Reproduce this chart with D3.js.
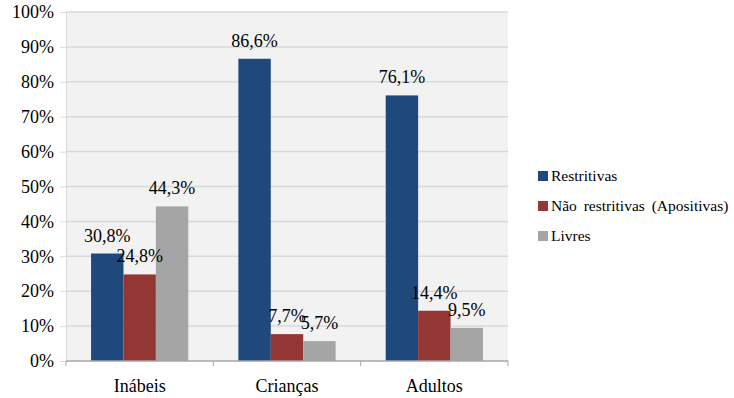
<!DOCTYPE html>
<html>
<head>
<meta charset="UTF-8">
<script src="https://cdn.jsdelivr.net/npm/d3@7"></script>
</head>
<body style="margin:0">
<script>

    var svgW = 734;
    var svgH = 398;
    var serifFont = "'Liberation Serif', 'Times New Roman', Tinos, serif";

    // categories, series and values
    var categories = ["Inábeis", "Crianças", "Adultos"];
    var seriesNames = ["Restritivas", "Não restritivas (Apositivas)", "Livres"];
    var seriesColors = ["#1f497d", "#943634", "#a5a5a5"];
    var restritivas = [30.8, 86.6, 76.1];
    var naoRestritivas = [24.8, 7.7, 14.4];
    var livres = [44.3, 5.7, 9.5];
    var yTicks = [0, 10, 20, 30, 40, 50, 60, 70, 80, 90, 100];

    var series = [restritivas, naoRestritivas, livres];

    var plotL = 66, plotR = 508, plotT = 12, plotB = 361;

    var svg = d3.select("body").append("svg")
            .attr("width", svgW)
            .attr("height", svgH)
            .attr("font-family", serifFont);

    var x0 = d3.scaleBand()
            .domain(categories)
            .range([plotL, plotR])
            .paddingInner(0.34)
            .paddingOuter(0.17);

    var x1 = d3.scaleBand()
            .domain(d3.range(series.length))
            .range([0, x0.bandwidth()]);

    var y = d3.scaleLinear()
            .domain([0, 100])
            .range([plotB, plotT]);

    // plot background
    svg.append("rect")
            .attr("x", plotL)
            .attr("y", plotT)
            .attr("width", plotR - plotL)
            .attr("height", plotB - plotT)
            .attr("fill", "#f2f2f2");

    // y axis with gridlines
    var yAxis = svg.append("g")
            .attr("transform", "translate(" + plotL + ",0)")
            .call(d3.axisLeft(y)
                    .tickValues(yTicks)
                    .tickSize(6)
                    .tickFormat(function (d) { return d + "%"; }));
    yAxis.attr("font-family", serifFont).attr("font-size", 18);
    yAxis.select(".domain").attr("stroke", "#d9d9d9");
    yAxis.selectAll(".tick line").attr("stroke", "#d9d9d9");
    yAxis.selectAll(".tick text")
            .attr("x", -12)
            .attr("fill", "#000");

    svg.append("g").selectAll("line")
            .data(yTicks.filter(function (d) { return d > 0; }))
            .enter()
            .append("line")
            .attr("x1", plotL)
            .attr("x2", plotR)
            .attr("y1", function (d) { return y(d); })
            .attr("y2", function (d) { return y(d); })
            .attr("stroke", "#d9d9d9")
            .attr("stroke-width", 1.5);

    // bars
    var groups = svg.append("g").selectAll("g")
            .data(categories)
            .enter()
            .append("g")
            .attr("transform", function (d) { return "translate(" + x0(d) + ",0)"; });

    groups.selectAll("rect")
            .data(function (d, i) {
                return series.map(function (s, k) { return {k: k, v: s[i]}; });
            })
            .enter()
            .append("rect")
            .attr("x", function (d) { return x1(d.k); })
            .attr("y", function (d) { return y(d.v); })
            .attr("width", x1.bandwidth())
            .attr("height", function (d) { return plotB - y(d.v); })
            .attr("fill", function (d) { return seriesColors[d.k]; });

    groups.selectAll("text")
            .data(function (d, i) {
                return series.map(function (s, k) { return {k: k, v: s[i]}; });
            })
            .enter()
            .append("text")
            .attr("x", function (d) { return x1(d.k) + x1.bandwidth() / 2; })
            .attr("y", function (d) { return y(d.v) - 12; })
            .attr("text-anchor", "middle")
            .attr("font-size", 18)
            .text(function (d) { return d.v.toFixed(1).replace(".", ",") + "%"; });

    // x axis
    var xAxis = svg.append("g")
            .attr("transform", "translate(0," + plotB + ")")
            .call(d3.axisBottom(x0).tickSize(0).tickPadding(18));
    xAxis.attr("font-family", serifFont).attr("font-size", 18);
    xAxis.select(".domain").remove();
    xAxis.selectAll(".tick text").attr("fill", "#000");

    svg.append("line")
            .attr("x1", plotL).attr("x2", plotR)
            .attr("y1", plotB).attr("y2", plotB)
            .attr("stroke", "#a6a6a6").attr("stroke-width", 1.5);

    var sepTicks = [plotL].concat(categories.map(function (c) { return x0(c) + x0.bandwidth() + x0.step() * x0.paddingInner() / 2; }));
    svg.append("g").selectAll("line")
            .data(sepTicks)
            .enter()
            .append("line")
            .attr("x1", function (d) { return d; })
            .attr("x2", function (d) { return d; })
            .attr("y1", plotB)
            .attr("y2", plotB + 5)
            .attr("stroke", "#a6a6a6");

    // legend
    var legend = svg.append("g").attr("transform", "translate(538,176)");
    var items = legend.selectAll("g")
            .data(seriesNames)
            .enter()
            .append("g")
            .attr("transform", function (d, i) { return "translate(0," + (i * 30) + ")"; });
    items.append("rect")
            .attr("x", 0)
            .attr("y", -5)
            .attr("width", 10)
            .attr("height", 10)
            .attr("fill", function (d, i) { return seriesColors[i]; });
    items.append("text")
            .attr("x", 13)
            .attr("y", 5)
            .attr("font-size", 15.5)
            .attr("word-spacing", 3)
            .text(function (d) { return d; });
</script>
</body>
</html>
